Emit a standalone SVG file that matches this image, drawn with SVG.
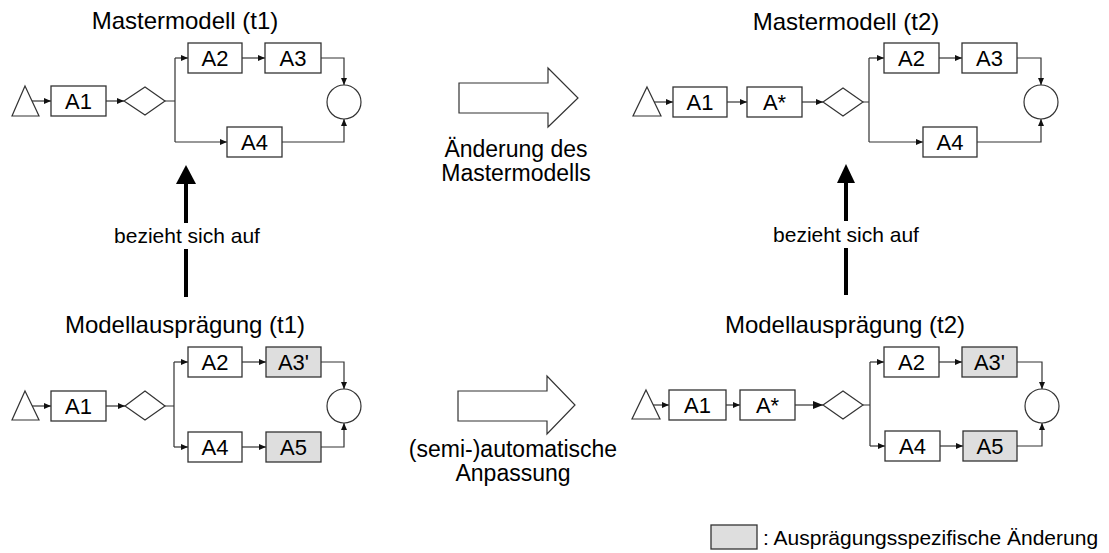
<svg xmlns="http://www.w3.org/2000/svg" width="1109" height="553" viewBox="0 0 1109 553">
  <style>
    .box { fill: #ffffff; stroke: #333333; stroke-width: 1.3; }
    .spec { fill: #dedede; stroke: #333333; stroke-width: 1.3; }
    .shape { fill: #ffffff; stroke: #333333; stroke-width: 1.2; }
    .edge { fill: none; stroke: #333333; stroke-width: 1.2; marker-end: url(#head); }
    .line { fill: none; stroke: #333333; stroke-width: 1.2; }
    .big { fill: none; stroke: #333333; stroke-width: 1.2; marker-end: url(#headBig); }
    .lbl { font-family: "Liberation Sans", Arial, sans-serif; font-size: 22px; fill: #000000; text-anchor: middle; }
    .title { font-family: "Liberation Sans", Arial, sans-serif; font-size: 24px; fill: #000000; text-anchor: middle; }
    .mid { font-family: "Liberation Sans", Arial, sans-serif; font-size: 23px; fill: #000000; text-anchor: middle; }
    .note { font-family: "Liberation Sans", Arial, sans-serif; font-size: 21px; fill: #000000; text-anchor: middle; }
    .block { fill: #ffffff; stroke: #333333; stroke-width: 1.2; }
    .thick { stroke: #000000; stroke-width: 4; fill: none; }
  </style>
  <defs>
    <marker id="head" markerUnits="userSpaceOnUse" markerWidth="8" markerHeight="8" refX="7" refY="3" orient="auto">
      <path d="M0,0 L7,3 L0,6 z" fill="#111111"/>
    </marker>
    <marker id="headBig" markerUnits="userSpaceOnUse" markerWidth="12" markerHeight="10" refX="10" refY="4" orient="auto">
      <path d="M0,0 L10,4 L0,8 z" fill="#111111"/>
    </marker>
  </defs>

  <rect width="1109" height="553" fill="#ffffff"/>

  <!-- titles -->
  <text class="title" x="185" y="29">Mastermodell (t1)</text>
  <text class="title" x="846" y="30">Mastermodell (t2)</text>
  <text class="title" x="185" y="333">Modellausprägung (t1)</text>
  <text class="title" x="845" y="333">Modellausprägung (t2)</text>

  <!-- connectors -->
  <g id="connectors">
    <!-- master model t1 -->
    <line class="edge" x1="32" y1="101" x2="51" y2="101"/>
    <line class="edge" x1="106" y1="101" x2="124" y2="101"/>
    <path class="line" d="M165,101 H175 M175,58 V142"/>
    <line class="edge" x1="175" y1="58" x2="188" y2="58"/>
    <line class="edge" x1="242" y1="58" x2="265" y2="58"/>
    <path class="edge" d="M321,58 H344 V85"/>
    <line class="edge" x1="175" y1="142" x2="227" y2="142"/>
    <path class="edge" d="M282,142 H344 V119"/>

    <!-- master model t2 -->
    <line class="edge" x1="654" y1="102" x2="673" y2="102"/>
    <line class="edge" x1="727" y1="102" x2="747" y2="102"/>
    <line class="edge" x1="802" y1="102" x2="823" y2="102"/>
    <path class="line" d="M863,102 H869 M869,58 V142"/>
    <line class="edge" x1="869" y1="58" x2="884" y2="58"/>
    <line class="edge" x1="939" y1="58" x2="962" y2="58"/>
    <path class="edge" d="M1017,58 H1041 V85"/>
    <line class="edge" x1="869" y1="142" x2="923" y2="142"/>
    <path class="edge" d="M977,142 H1041 V119"/>

    <!-- instance t1 -->
    <line class="edge" x1="32" y1="406" x2="51" y2="406"/>
    <line class="edge" x1="106" y1="406" x2="125" y2="406"/>
    <path class="line" d="M165,406 H174 M174,362 V447"/>
    <line class="edge" x1="174" y1="362" x2="188" y2="362"/>
    <line class="edge" x1="242" y1="362" x2="266" y2="362"/>
    <path class="edge" d="M321,362 H344 V389"/>
    <line class="edge" x1="174" y1="447" x2="188" y2="447"/>
    <line class="edge" x1="242" y1="447" x2="266" y2="447"/>
    <path class="edge" d="M321,447 H344 V423"/>

    <!-- instance t2 -->
    <line class="edge" x1="653" y1="405" x2="669" y2="405"/>
    <line class="edge" x1="726" y1="405" x2="740" y2="405"/>
    <line class="big" x1="795" y1="405" x2="823" y2="405"/>
    <path class="line" d="M863,405 H870 M870,362 V446"/>
    <line class="edge" x1="870" y1="362" x2="884" y2="362"/>
    <line class="edge" x1="939" y1="362" x2="962" y2="362"/>
    <path class="edge" d="M1017,362 H1042 V389"/>
    <line class="edge" x1="870" y1="446" x2="885" y2="446"/>
    <line class="edge" x1="940" y1="446" x2="963" y2="446"/>
    <path class="edge" d="M1017,446 H1042 V423"/>

    <!-- "bezieht sich auf" relations -->
    <polygon points="186,165 196,184 176,184" fill="#000000"/>
    <path class="thick" d="M186,183 V223 M186,249 V297"/>
    <polygon points="846,164 855,183 837,183" fill="#000000"/>
    <path class="thick" d="M846,182 V221 M846,248 V295"/>
  </g>
  <text class="note" x="187" y="243">bezieht sich auf</text>
  <text class="note" x="846" y="242">bezieht sich auf</text>

  <!-- master model t1 nodes -->
  <g id="m1-start"><polygon class="shape" points="25,86 39,116 12,116"/></g>
  <g id="m1-a1"><rect class="box" x="51" y="86" width="55" height="30"/><text class="lbl" x="78.5" y="109">A1</text></g>
  <g id="m1-xor"><polygon class="shape" points="124,101 145,87 165,101 145,115"/></g>
  <g id="m1-a2"><rect class="box" x="188" y="43" width="54" height="30"/><text class="lbl" x="215" y="66">A2</text></g>
  <g id="m1-a3"><rect class="box" x="265" y="43" width="56" height="30"/><text class="lbl" x="293" y="66">A3</text></g>
  <g id="m1-a4"><rect class="box" x="227" y="127" width="55" height="30"/><text class="lbl" x="254.5" y="150">A4</text></g>
  <g id="m1-end"><circle class="shape" cx="344" cy="102" r="17"/></g>

  <!-- master model t2 nodes -->
  <g id="m2-start"><polygon class="shape" points="647,87 661,116 633,116"/></g>
  <g id="m2-a1"><rect class="box" x="673" y="87" width="54" height="30"/><text class="lbl" x="700" y="110">A1</text></g>
  <g id="m2-astar"><rect class="box" x="747" y="87" width="55" height="30"/><text class="lbl" x="774.5" y="110">A*</text></g>
  <g id="m2-xor"><polygon class="shape" points="823,102 843,88 863,102 843,116"/></g>
  <g id="m2-a2"><rect class="box" x="884" y="43" width="55" height="30"/><text class="lbl" x="911.5" y="66">A2</text></g>
  <g id="m2-a3"><rect class="box" x="962" y="43" width="55" height="30"/><text class="lbl" x="989.5" y="66">A3</text></g>
  <g id="m2-a4"><rect class="box" x="923" y="127" width="54" height="30"/><text class="lbl" x="950" y="150">A4</text></g>
  <g id="m2-end"><circle class="shape" cx="1041" cy="102" r="17"/></g>

  <!-- instance t1 nodes -->
  <g id="i1-start"><polygon class="shape" points="25,391 39,420 12,420"/></g>
  <g id="i1-a1"><rect class="box" x="51" y="391" width="55" height="30"/><text class="lbl" x="78.5" y="414">A1</text></g>
  <g id="i1-xor"><polygon class="shape" points="125,406 145,391 165,406 145,420"/></g>
  <g id="i1-a2"><rect class="box" x="188" y="347" width="54" height="30"/><text class="lbl" x="215" y="370">A2</text></g>
  <g id="i1-a3"><rect class="spec" x="266" y="347" width="55" height="30"/><text class="lbl" x="293.5" y="370">A3'</text></g>
  <g id="i1-a4"><rect class="box" x="188" y="432" width="54" height="30"/><text class="lbl" x="215" y="455">A4</text></g>
  <g id="i1-a5"><rect class="spec" x="266" y="432" width="55" height="30"/><text class="lbl" x="293.5" y="455">A5</text></g>
  <g id="i1-end"><circle class="shape" cx="344" cy="406" r="17"/></g>

  <!-- instance t2 nodes -->
  <g id="i2-start"><polygon class="shape" points="646,390 660,419 632,419"/></g>
  <g id="i2-a1"><rect class="box" x="669" y="390" width="57" height="30"/><text class="lbl" x="697.5" y="413">A1</text></g>
  <g id="i2-astar"><rect class="box" x="740" y="390" width="55" height="30"/><text class="lbl" x="767.5" y="413">A*</text></g>
  <g id="i2-xor"><polygon class="shape" points="823,405 843,391 863,405 843,419"/></g>
  <g id="i2-a2"><rect class="box" x="884" y="347" width="55" height="30"/><text class="lbl" x="911.5" y="370">A2</text></g>
  <g id="i2-a3"><rect class="spec" x="962" y="347" width="55" height="30"/><text class="lbl" x="989.5" y="370">A3'</text></g>
  <g id="i2-a4"><rect class="box" x="885" y="431" width="55" height="30"/><text class="lbl" x="912.5" y="454">A4</text></g>
  <g id="i2-a5"><rect class="spec" x="963" y="431" width="54" height="30"/><text class="lbl" x="990" y="454">A5</text></g>
  <g id="i2-end"><circle class="shape" cx="1042" cy="406" r="17"/></g>

  <!-- transition arrows -->
  <g id="change">
    <polygon class="block" points="459,83 548,83 548,68 578,98 548,127 548,113 459,113"/>
    <text class="mid" x="516" y="157">Änderung des</text>
    <text class="mid" x="516" y="181">Mastermodells</text>
  </g>
  <g id="adapt">
    <polygon class="block" points="458,391 547,391 547,376 575,405 547,434 547,421 458,421"/>
    <text class="mid" x="513" y="457">(semi-)automatische</text>
    <text class="mid" x="513" y="481">Anpassung</text>
  </g>

  <!-- legend -->
  <g id="legend">
    <rect class="spec" x="711" y="525" width="46" height="24"/>
    <text class="note" x="763" y="545" style="text-anchor:start">: Ausprägungsspezifische Änderung</text>
  </g>
</svg>
